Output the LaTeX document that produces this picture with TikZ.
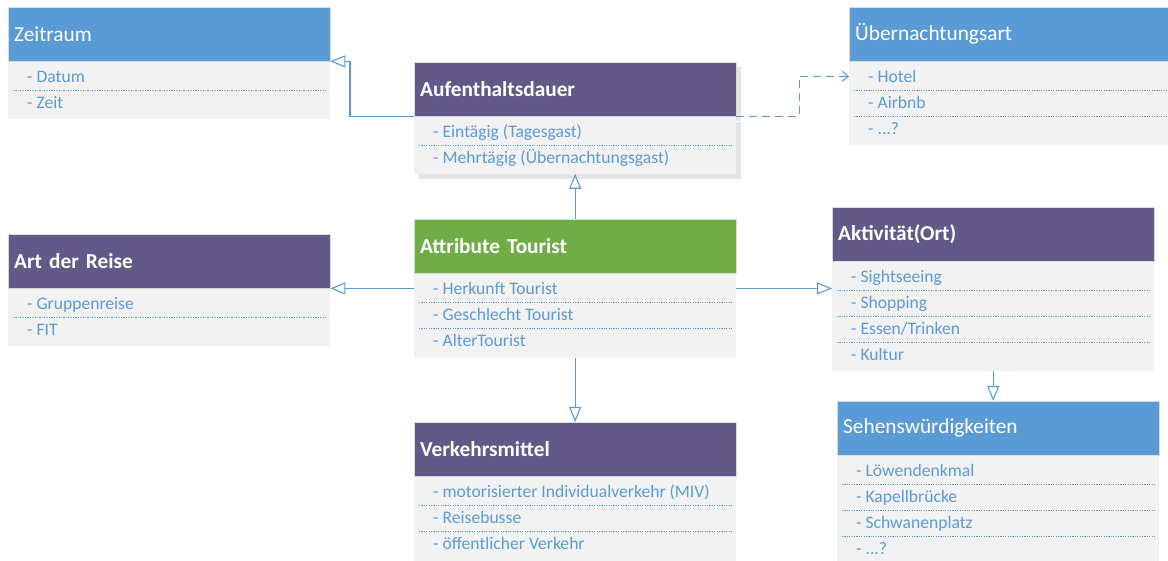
\documentclass[tikz,border=0pt]{standalone}
\usepackage{fontspec}
\setmainfont{Carlito}
\usepackage{xcolor}
\usepackage{tikz}
\usetikzlibrary{arrows.meta}
\usetikzlibrary{shadows}

\definecolor{hblue}{RGB}{91,155,213}
\definecolor{hpurple}{RGB}{98,89,136}
\definecolor{hgreen}{RGB}{112,173,71}
\definecolor{bodygray}{RGB}{242,242,242}
\definecolor{itemblue}{RGB}{91,155,213}
\newcommand{\dotsq}{...?}

\begin{document}
\begin{tikzpicture}[x=1pt,y=-1pt]
      \tikzstyle{hdr}=[anchor=north west,draw=white!85!black,line width=0.4pt,text=white,minimum height=54pt,text width=310pt,inner xsep=6pt,align=left,font=\fontsize{21.3}{25}\selectfont]
      \tikzstyle{hdrb}=[hdr,font=\fontsize{21.3}{25}\selectfont\bfseries]
      \tikzstyle{classbody}=[anchor=north west,fill=bodygray,inner sep=0pt,minimum width=322pt]
      \tikzstyle{item}=[anchor=base west,inner sep=0pt,text=itemblue,font=\fontsize{17.6}{21}\selectfont]
      \tikzstyle{dotsep}=[itemblue,line width=0.9pt,dash pattern=on 1.2pt off 1.2pt]
      \tikzstyle{gen}=[-{Triangle[open,length=15pt,width=12pt]},itemblue,line width=1.1pt]
      \tikzstyle{dep}=[-{Straight Barb[length=6pt,width=10pt]},itemblue,line width=1.1pt,dash pattern=on 8pt off 5pt]
      \tikzstyle{shd}=[drop shadow={shadow xshift=5pt,shadow yshift=-5pt,fill=black,opacity=0.1}]
      \useasboundingbox (0,0) rectangle (1168,561);
      % Zeitraum
      \node[hdr,fill=hblue] (zeith) at (8,7) {Zeitraum};
      \node[classbody,minimum height=57pt] (zeitb) at (zeith.south west) {};
      \foreach \t [count=\i from 0] in {Datum,Zeit}
        \node[item] (zeit\i) at ([shift={(19,{21+26*\i})}]zeitb.north west) {- \t};
      \foreach \i in {1}
        \draw[dotsep] ([shift={(5,{3+26*\i})}]zeitb.north west) -- ([shift={(-4,{3+26*\i})}]zeitb.north east);
      % Aufenthaltsdauer
      \node[hdrb,fill=hpurple,shd] (aufh) at (414,62) {Aufenthaltsdauer};
      \node[classbody,shd,minimum height=57pt] (aufb) at (aufh.south west) {};
      \foreach \t [count=\i from 0] in {Eintägig (Tagesgast),Mehrtägig (Übernachtungsgast)}
        \node[item] (auf\i) at ([shift={(19,{21+26*\i})}]aufb.north west) {- \t};
      \foreach \i in {1}
        \draw[dotsep] ([shift={(5,{3+26*\i})}]aufb.north west) -- ([shift={(-4,{3+26*\i})}]aufb.north east);
      % Uebernachtungsart
      \node[hdr,fill=hblue,text width=307pt] (uebh) at (849,7) {Übernachtungsart};
      \node[classbody,minimum width=319pt,minimum height=83pt] (uebb) at (uebh.south west) {};
      \foreach \t [count=\i from 0] in {Hotel,Airbnb,\dotsq}
        \node[item] (ueb\i) at ([shift={(19,{21+26*\i})}]uebb.north west) {- \t};
      \foreach \i in {1,2}
        \draw[dotsep] ([shift={(5,{3+26*\i})}]uebb.north west) -- ([shift={(-1,{3+26*\i})}]uebb.north east);
      % Art der Reise
      \node[hdrb,fill=hpurple] (arth) at (8,234) {Art der Reise};
      \node[classbody,minimum height=57pt] (artb) at (arth.south west) {};
      \foreach \t [count=\i from 0] in {Gruppenreise,FIT}
        \node[item] (art\i) at ([shift={(19,{21+26*\i})}]artb.north west) {- \t};
      \foreach \i in {1}
        \draw[dotsep] ([shift={(5,{3+26*\i})}]artb.north west) -- ([shift={(-4,{3+26*\i})}]artb.north east);
      % Attribute Tourist
      \node[hdrb,fill=hgreen] (attrh) at (414,219) {Attribute Tourist};
      \node[classbody,minimum height=84pt] (attrb) at (attrh.south west) {};
      \foreach \t [count=\i from 0] in {Herkunft Tourist,Geschlecht Tourist,AlterTourist}
        \node[item] (attr\i) at ([shift={(19,{21+26*\i})}]attrb.north west) {- \t};
      \foreach \i in {1,2}
        \draw[dotsep] ([shift={(5,{3+26*\i})}]attrb.north west) -- ([shift={(-4,{3+26*\i})}]attrb.north east);
      % Aktivitaet(Ort)
      \node[hdrb,fill=hpurple] (akth) at (832,207) {Aktivität(Ort)};
      \node[classbody,minimum height=109pt] (aktb) at (akth.south west) {};
      \foreach \t [count=\i from 0] in {Sightseeing,Shopping,Essen/Trinken,Kultur}
        \node[item] (akt\i) at ([shift={(19,{21+26*\i})}]aktb.north west) {- \t};
      \foreach \i in {1,2,3}
        \draw[dotsep] ([shift={(5,{3+26*\i})}]aktb.north west) -- ([shift={(-4,{3+26*\i})}]aktb.north east);
      % Verkehrsmittel
      \node[hdrb,fill=hpurple] (verh) at (414,422) {Verkehrsmittel};
      \node[classbody,minimum height=84pt] (verb) at (verh.south west) {};
      \foreach \t [count=\i from 0] in {motorisierter Individualverkehr (MIV),Reisebusse,öffentlicher Verkehr}
        \node[item] (ver\i) at ([shift={(19,{21+26*\i})}]verb.north west) {- \t};
      \foreach \i in {1,2}
        \draw[dotsep] ([shift={(5,{3+26*\i})}]verb.north west) -- ([shift={(-4,{3+26*\i})}]verb.north east);
      % Sehenswuerdigkeiten
      \node[hdr,fill=hblue] (sehh) at (837,401) {Sehenswürdigkeiten};
      \node[classbody,minimum height=106pt] (sehb) at (sehh.south west) {};
      \foreach \t [count=\i from 0] in {Löwendenkmal,Kapellbrücke,Schwanenplatz,\dotsq}
        \node[item] (seh\i) at ([shift={(19,{21+26*\i})}]sehb.north west) {- \t};
      \foreach \i in {1,2,3}
        \draw[dotsep] ([shift={(5,{3+26*\i})}]sehb.north west) -- ([shift={(-4,{3+26*\i})}]sehb.north east);
      % connectors
      \draw[gen] (aufh.south west) -- ++(-64,0) |- (zeith.south east);
      \draw[dep] (aufh.south east) -- ++(63,0) |- (uebb.west |- ueb0);
      \draw[gen] (attrh.north) -- (aufb.south);
      \draw[gen] (attrb.west |- arth.south) -- (arth.south east);
      \draw[gen] (attrb.east |- arth.south) -- (aktb.west |- arth.south);
      \draw[gen] (attrb.south) -- (verh.north);
      \draw[gen] (aktb.south) -- (aktb.south |- sehh.north);
    \end{tikzpicture}
\end{document}
